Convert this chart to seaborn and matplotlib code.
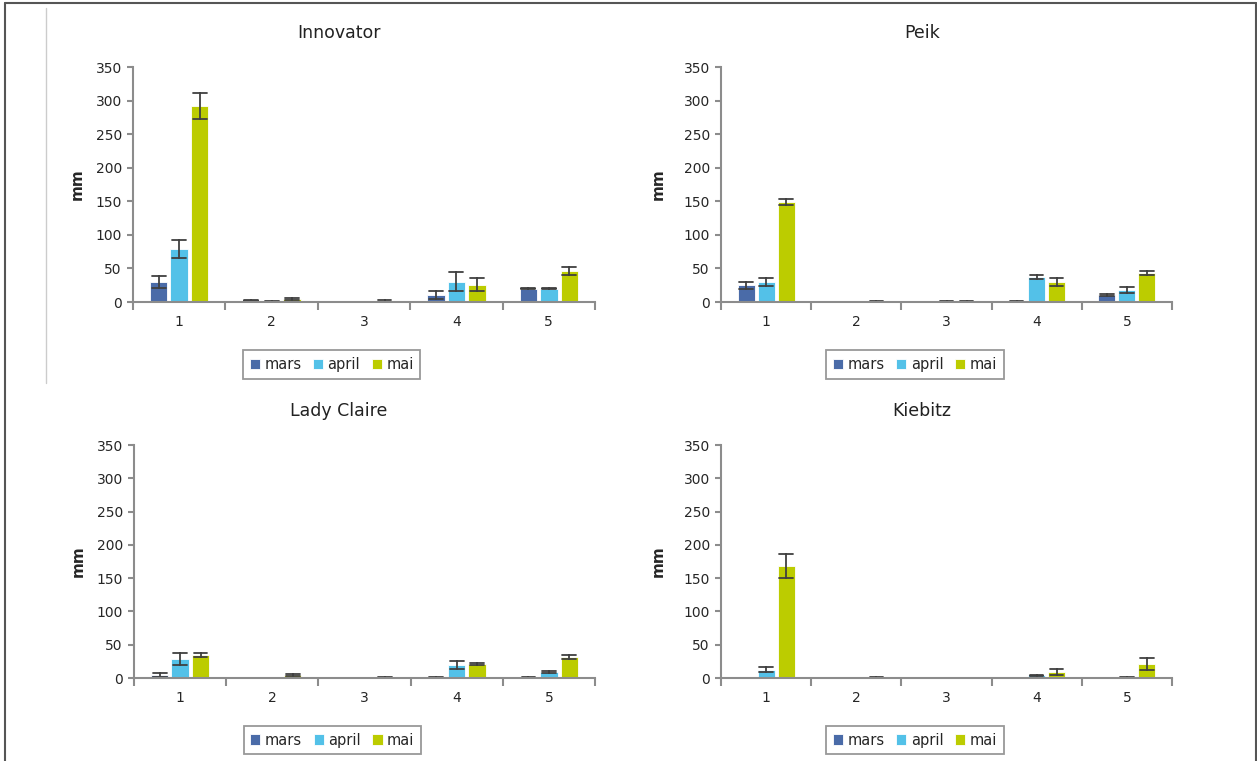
import pandas as pd
import seaborn as sns
import matplotlib.pyplot as plt
from matplotlib.lines import Line2D
from matplotlib.ticker import MultipleLocator, FixedLocator

# categorias y meses
categories = ['1', '2', '3', '4', '5']
months = ['mars', 'april', 'mai']
colors = ['#4a6ba8', '#53c1e8', '#bccc00']

# valores medios (mars, april, mai) y errores
innovator_mean = [[30, 2, 0, 11, 20], [79, 1, 0, 30, 20], [292, 4.5, 1.5, 26, 46]]
innovator_err = [[9, 1, 0, 6, 1], [14, 0.5, 0, 14, 1], [19, 1.5, 1, 10, 6]]

peik_mean = [[25, 0, 0, 1, 11], [30, 0, 0.5, 37, 18], [149, 1, 1, 30, 43]]
peik_err = [[5, 0, 0, 0.5, 1.5], [6, 0, 0.3, 3, 5], [5, 1, 1, 6, 3]]

lady_mean = [[5, 0, 0, 0.5, 1], [28, 0, 0, 20, 9], [34, 4.5, 1, 21, 31.5]]
lady_err = [[3, 0, 0, 0.5, 1], [9, 0, 0, 6, 1], [3, 1.5, 1, 2, 3.5]]

kiebitz_mean = [[0, 0, 0, 0, 0], [12.5, 0, 0, 4, 1], [168.5, 1, 0.3, 9, 20.5]]
kiebitz_err = [[0, 0, 0, 0, 0], [3.5, 0, 0, 0.5, 1], [18, 1, 0.3, 5, 9]]

paneles = [
    ('Innovator', innovator_mean, innovator_err),
    ('Peik', peik_mean, peik_err),
    ('Lady Claire', lady_mean, lady_err),
    ('Kiebitz', kiebitz_mean, kiebitz_err),
]


def armar_df(medias, errores):
    # dos observaciones por barra (media -/+ error) -> intervalo min-max
    filas = []
    for m, mes in enumerate(months):
        for c, cat in enumerate(categories):
            v, e = medias[m][c], errores[m][c]
            if v == 0 and e == 0:
                continue
            filas.append({'cat': cat, 'mes': mes, 'mm': max(v - e, 0)})
            filas.append({'cat': cat, 'mes': mes, 'mm': v + e + min(v - e, 0)})
    return pd.DataFrame(filas)


sns.set_style('white')
plt.rcParams['font.family'] = ['DejaVu Sans']

fig = plt.figure(figsize=(12.57, 7.61), dpi=100)
W, H = 1257, 761

# posiciones de los ejes en pixeles (izq, der, arriba, abajo)
cajas = [(133, 595, 67, 302), (721, 1172, 67, 302),
         (134, 595, 445, 678), (721, 1172, 445, 678)]
ylabel_x = [-0.104, -0.122, -0.104, -0.122]

for i, (nombre, medias, errores) in enumerate(paneles):
    l, r, t, b = cajas[i]
    ax = fig.add_axes([l / W, 1 - b / H, (r - l) / W, (b - t) / H])
    df = armar_df(medias, errores)
    sns.barplot(data=df, x='cat', y='mm', hue='mes', order=categories,
                hue_order=months, palette=dict(zip(months, colors)), saturation=1,
                errorbar=('pi', 100), capsize=0.45, width=0.666, gap=0.15,
                err_kws={'color': '#404040', 'linewidth': 1.3},
                edgecolor='white', linewidth=0.6, ax=ax)

    ax.set_xlim(-0.5, 4.5)
    ax.set_ylim(0, 350)
    ax.yaxis.set_major_locator(MultipleLocator(50))
    ax.xaxis.set_minor_locator(FixedLocator([-0.5, 0.5, 1.5, 2.5, 3.5, 4.5]))
    ax.tick_params(bottom=True, left=True, which='both')
    ax.tick_params(axis='x', which='major', length=0, pad=9, labelsize=10)
    ax.tick_params(axis='x', which='minor', length=6, width=1.5, color='#8c8c8c', direction='out')
    ax.tick_params(axis='y', which='major', length=4, width=1.5, color='#8c8c8c',
                   direction='out', labelsize=10, pad=4)
    for s in ['top', 'right']:
        ax.spines[s].set_visible(False)
    for s in ['left', 'bottom']:
        ax.spines[s].set_color('#8c8c8c')
        ax.spines[s].set_linewidth(1.5)

    ax.set_xlabel('')
    ax.set_ylabel('mm', fontsize=11, fontweight='bold')
    ax.yaxis.set_label_coords(ylabel_x[i], 0.5)
    ax.text(0.445, 1 + 34 / 235, nombre, transform=ax.transAxes,
            ha='center', va='center', fontsize=12.5, color='#222222')

    sns.move_legend(ax, 'upper center', bbox_to_anchor=(0.43, -0.175), ncol=3,
                    title=None, frameon=True, fancybox=False, edgecolor='#999999',
                    framealpha=1, fontsize=10.5, handlelength=0.7, handleheight=0.7,
                    handletextpad=0.3, columnspacing=0.8, borderpad=0.45)
    ax.get_legend().get_frame().set_linewidth(1.3)

# marco de la figura
borde = '#555555'
fig.add_artist(Line2D([5 / W, 1256 / W], [1 - 3 / H, 1 - 3 / H], color=borde, lw=1.5))
fig.add_artist(Line2D([5 / W, 5 / W], [0, 1 - 3 / H], color=borde, lw=1.5))
fig.add_artist(Line2D([1256 / W, 1256 / W], [0, 1 - 3 / H], color=borde, lw=1.5))
fig.add_artist(Line2D([46 / W, 46 / W], [1 - 383 / H, 1 - 8 / H], color='#cccccc', lw=1))

plt.savefig('out.png', dpi=100)
